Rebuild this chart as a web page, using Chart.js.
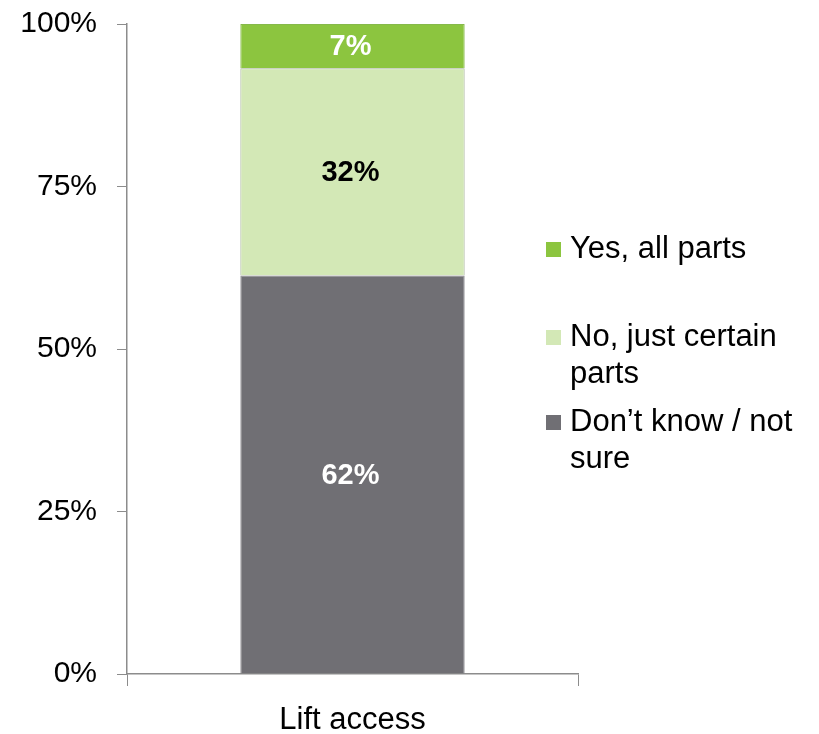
<!DOCTYPE html>
<html>
<head>
<meta charset="utf-8">
<script src="https://cdn.jsdelivr.net/npm/chart.js@4.4.1/dist/chart.umd.min.js"></script>
<style>
  html, body { margin: 0; padding: 0; background: #fff; }
  #wrap { width: 819px; height: 734px; }
</style>
</head>
<body>
<div id="wrap"><canvas id="myChart" width="819" height="734"></canvas></div>
<script>
// data
var categories = ['Lift access'];
var dontKnow = [61.3];
var justCertain = [31.9];
var yesAll = [6.8];
var dontKnowLabels = ['62%'];
var justCertainLabels = ['32%'];
var yesAllLabels = ['7%'];
var yTicks = [0, 25, 50, 75, 100];

var FONT = '"Liberation Sans", Arial, sans-serif';

// text printed inside each segment
var segmentLabels = {
    id: 'segmentLabels',
    afterDatasetsDraw: function (chart) {
        var ctx = chart.ctx;
        ctx.save();
        ctx.font = 'bold 29px ' + FONT;
        ctx.textAlign = 'center';
        ctx.textBaseline = 'middle';
        chart.data.datasets.forEach(function (ds, i) {
            var meta = chart.getDatasetMeta(i);
            meta.data.forEach(function (bar, j) {
                var mid = (bar.y + bar.base) / 2;
                ctx.fillStyle = ds.labelColor;
                ctx.fillText(ds.valueLabels[j], bar.x - 2, mid + 1);
            });
        });
        ctx.restore();
    }
};

// legend on the right with wrapped text
var sideLegend = {
    id: 'sideLegend',
    afterDraw: function (chart) {
        var ctx = chart.ctx;
        var items = chart.data.datasets.slice().reverse();
        var tops = [249, 337, 422];
        ctx.save();
        ctx.font = '31px ' + FONT;
        ctx.textBaseline = 'middle';
        ctx.textAlign = 'left';
        items.forEach(function (ds, k) {
            var y = tops[k];
            ctx.fillStyle = ds.backgroundColor;
            ctx.fillRect(546, y - 7, 15, 15);
            ctx.fillStyle = '#000';
            ds.legendLines.forEach(function (line, n) {
                ctx.fillText(line, 570, y + n * 37);
            });
        });
        ctx.restore();
    }
};

var ctx = document.getElementById('myChart').getContext('2d');
var myChart = new Chart(ctx, {
    type: 'bar',
    data: {
        labels: categories,
        datasets: [{
            label: 'Don’t know / not sure',
            legendLines: ['Don’t know / not', 'sure'],
            data: dontKnow,
            valueLabels: dontKnowLabels,
            labelColor: '#ffffff',
            backgroundColor: '#706f74',
            borderColor: '#8a898e',
            borderWidth: 1
        }, {
            label: 'No, just certain parts',
            legendLines: ['No, just certain', 'parts'],
            data: justCertain,
            valueLabels: justCertainLabels,
            labelColor: '#000000',
            backgroundColor: '#d3e8b6',
            borderColor: '#a9b59e',
            borderWidth: 1
        }, {
            label: 'Yes, all parts',
            legendLines: ['Yes, all parts'],
            data: yesAll,
            valueLabels: yesAllLabels,
            labelColor: '#ffffff',
            backgroundColor: '#8cc53f',
            borderColor: '#86b94a',
            borderWidth: 1
        }]
    },
    options: {
        responsive: false,
        animation: false,
        layout: { padding: { top: 24, right: 241, left: 0, bottom: 0 } },
        plugins: {
            legend: { display: false },
            tooltip: { enabled: false }
        },
        datasets: {
            bar: { barPercentage: 0.5, categoryPercentage: 0.995 }
        },
        scales: {
            x: {
                stacked: true,
                grid: { drawOnChartArea: false, color: '#8c8c8c', tickLength: 12, offset: true },
                border: { color: '#8c8c8c', width: 1.5 },
                ticks: { color: '#000', font: { family: FONT, size: 31 }, padding: 16 },
                afterFit: function (scale) { scale.height = 60; }
            },
            y: {
                stacked: true,
                min: 0,
                max: 100,
                afterBuildTicks: function (scale) {
                    scale.ticks = yTicks.map(function (v) { return { value: v }; });
                },
                grid: { drawOnChartArea: false, color: '#8c8c8c', tickLength: 10 },
                border: { color: '#8c8c8c', width: 1.5 },
                ticks: {
                    color: '#000',
                    font: { family: FONT, size: 30 },
                    padding: 20,
                    callback: function (v) { return v + '%'; }
                },
                afterFit: function (scale) {
                    scale.width = 127;
                    scale.paddingTop = 0;
                    scale.paddingBottom = 0;
                }
            }
        }
    },
    plugins: [segmentLabels, sideLegend]
});
</script>
</body>
</html>
